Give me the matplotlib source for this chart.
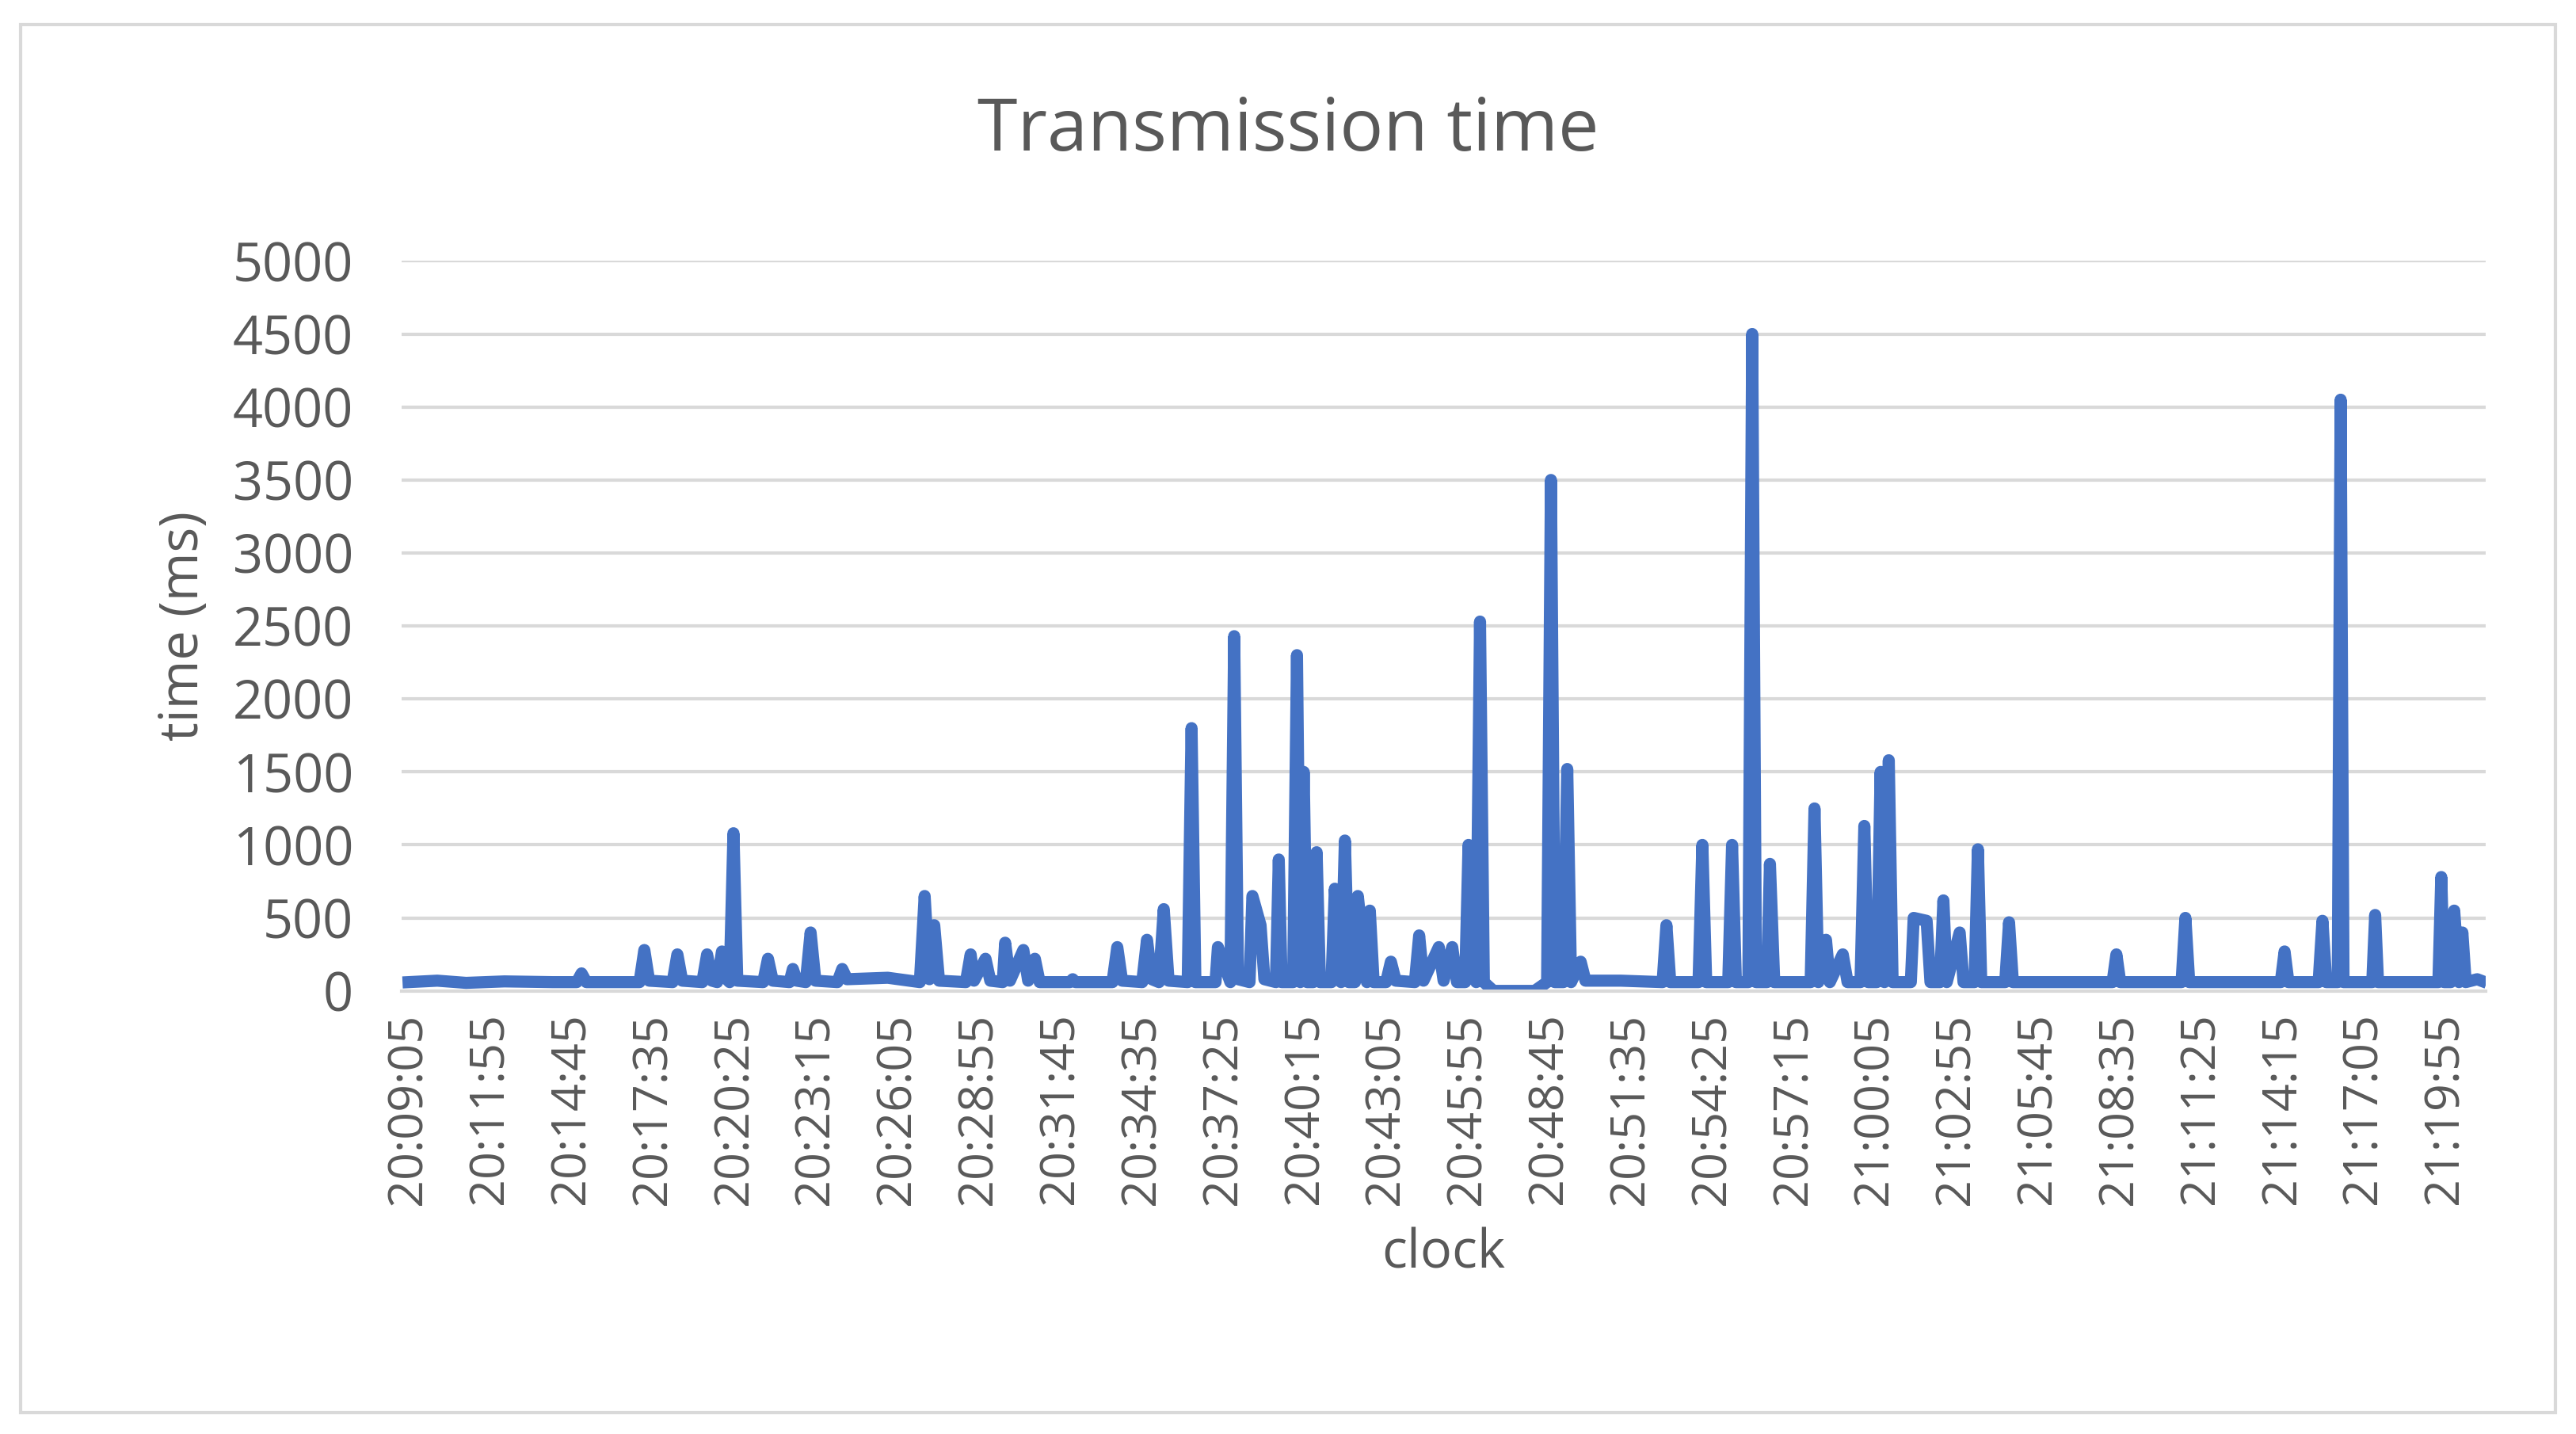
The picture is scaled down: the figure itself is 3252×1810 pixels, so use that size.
"""Transmission time over the clock, Excel-style line chart."""

import datetime as dt

import matplotlib.pyplot as plt
from matplotlib.patches import Rectangle

START = dt.datetime(2020, 1, 1, 20, 9, 5)

# seconds after 20:09:05 and transmission time in ms
elapsed_s = [
    0, 60, 120, 200, 300, 351, 361, 371, 482, 492, 502, 551, 561, 571,
    613, 623, 633, 644, 654, 664, 670, 678, 686, 740, 750, 760, 795, 802,
    810, 829, 839, 849, 895, 905, 915, 1000, 1067, 1077, 1087, 1097, 1107,
    1163, 1173, 1180, 1204, 1214, 1240, 1245, 1255, 1283, 1293, 1307, 1317,
    1380, 1386, 1392, 1469, 1479, 1489, 1531, 1541, 1551, 1566, 1576, 1586,
    1626, 1634, 1642, 1684, 1689, 1715, 1723, 1731, 1755, 1761, 1778, 1786,
    1810, 1816, 1822, 1846, 1854, 1861, 1868, 1875, 1888, 1895, 1902, 1926,
    1933, 1946, 1954, 1962, 1975, 1981, 2000, 2006, 2014, 2040, 2050, 2060,
    2100, 2109, 2118, 2150, 2160, 2178, 2188, 2205, 2212, 2228, 2236, 2244,
    2264, 2350, 2376, 2384, 2392, 2410, 2418, 2426, 2446, 2456, 2530, 2617,
    2625, 2633, 2692, 2700, 2708, 2754, 2762, 2770, 2796, 2804, 2812, 2835,
    2841, 2850, 2926, 2934, 2942, 2958, 2966, 2993, 3003, 3030, 3038, 3046,
    3064, 3072, 3080, 3089, 3097, 3135, 3141, 3168, 3176, 3196, 3203, 3210,
    3237, 3245, 3268, 3275, 3282, 3332, 3340, 3348, 3450, 3556, 3564, 3572,
    3640, 3700, 3708, 3716, 3800, 3907, 3915, 3923, 3986, 3994, 4002, 4026,
    4032, 4038, 4098, 4104, 4110, 4200, 4236, 4242, 4248, 4262, 4269, 4279,
    4286, 4293, 4317, 4325,
]
time_ms = [
    60, 70, 55, 65, 60, 60, 120, 60, 60, 280, 70, 60, 250, 70,
    60, 250, 70, 60, 270, 80, 60, 1080, 70, 60, 220, 70, 60, 150,
    70, 60, 400, 70, 60, 150, 80, 90, 60, 650, 80, 450, 70,
    60, 250, 70, 220, 70, 60, 330, 70, 280, 70, 220, 60,
    60, 80, 60, 60, 300, 70, 60, 350, 80, 60, 560, 70,
    60, 1800, 60, 60, 300, 60, 2430, 80, 60, 650, 450, 80,
    60, 900, 60, 60, 2300, 60, 1500, 60, 60, 950, 60, 60,
    700, 60, 1030, 60, 60, 650, 60, 550, 60, 60, 200, 70,
    60, 380, 70, 300, 70, 300, 60, 60, 1000, 60, 2530, 60,
    0, 0, 60, 3500, 60, 60, 1520, 60, 200, 70, 70, 60,
    450, 60, 60, 1000, 60, 60, 1000, 60, 60, 4500, 60, 60,
    870, 60, 60, 1250, 60, 350, 60, 250, 60, 60, 1130, 60,
    60, 1500, 60, 1580, 60, 60, 500, 480, 60, 60, 620, 60,
    400, 60, 60, 970, 60, 60, 470, 60, 60, 60, 250, 60,
    60, 60, 500, 60, 60, 60, 270, 60, 60, 480, 60, 60,
    4050, 60, 60, 520, 60, 60, 60, 780, 60, 60, 550, 60,
    400, 60, 80, 70,
]

TICK_STEP_S = 170
N_TICKS = 26
BLUE = "#4472C4"
GREY = "#595959"

plt.rcParams["font.family"] = ["Open Sans", "DejaVu Sans"]


def main() -> None:
    times = [START + dt.timedelta(seconds=s) for s in elapsed_s]
    ticks = [START + dt.timedelta(seconds=TICK_STEP_S * i) for i in range(N_TICKS)]

    fig = plt.figure(figsize=(16.26, 9.05), dpi=200)
    fig.patches.append(Rectangle((0.008, 0.015), 0.984, 0.968, transform=fig.transFigure,
                                 fill=False, edgecolor="#D9D9D9", linewidth=1.5))
    ax = fig.add_axes([0.156, 0.309, 0.809, 0.509])
    ax.plot(times, time_ms, color=BLUE, linewidth=5.5, solid_joinstyle="round")

    ax.set_xlim(START - dt.timedelta(seconds=14), START + dt.timedelta(seconds=4335))
    ax.set_ylim(0, 5000)
    ax.set_yticks(range(0, 5001, 500))
    ax.set_xticks(ticks)
    ax.set_xticklabels([t.strftime("%H:%M:%S") for t in ticks], rotation=90)
    ax.grid(axis="y", color="#D9D9D9", linewidth=1.5)
    ax.set_axisbelow(True)
    for side in ("top", "right", "left"):
        ax.spines[side].set_visible(False)
    ax.spines["bottom"].set_color("#D9D9D9")
    ax.spines["bottom"].set_linewidth(1.5)
    ax.tick_params(axis="x", colors=GREY, labelsize=22, length=0, pad=10)
    ax.tick_params(axis="y", colors=GREY, labelsize=24, length=0, pad=22)
    ax.set_xlabel("clock", color=GREY, fontsize=24, labelpad=10)
    ax.set_ylabel("time (ms)", color=GREY, fontsize=24, labelpad=10)
    fig.text(0.5, 0.908, "Transmission time", ha="center", va="center",
             color=GREY, fontsize=33)

    fig.savefig("out.png", dpi=200)


if __name__ == "__main__":
    main()
